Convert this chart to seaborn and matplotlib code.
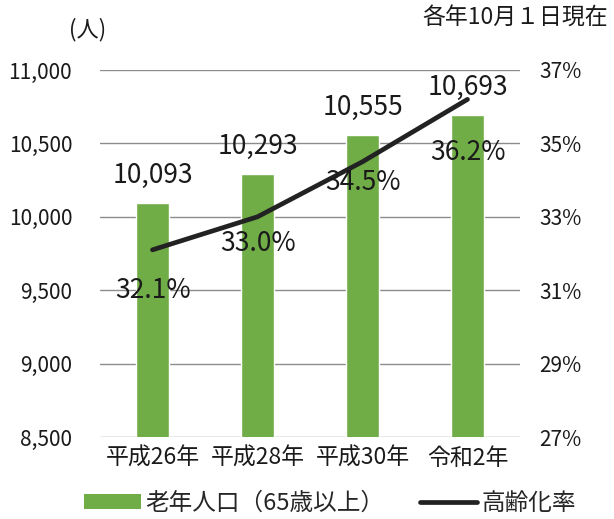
import matplotlib
matplotlib.use("Agg")
import matplotlib.pyplot as plt
import seaborn as sns
import numpy as np
from matplotlib.patches import Patch
from matplotlib.lines import Line2D

categories = ["平成26年", "平成28年", "平成30年", "令和2年"]
population = [10093, 10293, 10555, 10693]
aging_rate = [32.1, 33.0, 34.5, 36.2]
left_ticks = [8500, 9000, 9500, 10000, 10500, 11000]
right_ticks = [27, 29, 31, 33, 35, 37]

sns.set_theme(style="white")
plt.rcParams['font.family'] = ['Noto Sans CJK JP', 'DejaVu Sans']

bar_color = "#70AD47"
line_color = "#222222"
text_color = "#1a1a1a"

fig = plt.figure(figsize=(6.14, 5.19), dpi=100)
ax = fig.add_axes([100/614, 1-437/519, 420/614, (437-70)/519])

sns.barplot(x=categories, y=population, color=bar_color, width=0.31,
            saturation=1, ax=ax, zorder=3)
ax.set_ylim(8500, 11000)
ax.set_xlim(-0.5, 3.5)
ax.set_yticks(left_ticks)
ax.set_yticklabels([f"{v:,}" for v in left_ticks])
ax.yaxis.grid(True, color="#8c8c8c", linewidth=1.0, zorder=0)
ax.set_axisbelow(True)
for s in ax.spines.values():
    s.set_visible(False)
ax.tick_params(axis='y', length=0, pad=20, labelsize=15, labelcolor=text_color)
ax.tick_params(axis='x', length=0, pad=7, labelsize=16.5, labelcolor=text_color)
ax.set_xlabel("")
ax.set_ylabel("")

ax2 = ax.twinx()
x_pos = np.arange(len(categories))
sns.lineplot(x=x_pos, y=aging_rate, ax=ax2, color=line_color, linewidth=3.4,
             zorder=5)
ax2.set_ylim(27, 37)
ax2.set_yticks(right_ticks)
ax2.set_yticklabels([f"{v}%" for v in right_ticks])
ax2.tick_params(axis='y', length=0, pad=14, labelsize=15, labelcolor=text_color)
ax2.grid(False)
for s in ax2.spines.values():
    s.set_visible(False)
ax2.set_ylabel("")

# bar value labels
for i, v in enumerate(population):
    ax.annotate(f"{v:,}", (i, v), xytext=(0, 20), textcoords="offset points",
                ha="center", va="center", fontsize=19, color=text_color, zorder=6)

# rate labels
rate_offsets = [-29, -19, -15, -38]
for i, r in enumerate(aging_rate):
    ax2.annotate(f"{r}%", (i, r), xytext=(0, rate_offsets[i]), textcoords="offset points",
                 ha="center", va="center", fontsize=19, color=text_color, zorder=6)

fig.text(88/614, 1-30/519, "(人)", ha="center", va="center", fontsize=16, color=text_color)
fig.text(608/614, 1-18/519, "各年10月１日現在", ha="right", va="center", fontsize=16.5, color=text_color)

handles = [Patch(facecolor=bar_color, edgecolor="none"),
           Line2D([0], [0], color=line_color, linewidth=3.4)]
labels = ["老年人口（65歳以上）", "高齢化率"]
fig.legend(handles, labels, loc="center", bbox_to_anchor=(330/614, 1-503/519),
           ncol=2, frameon=False, fontsize=17, handlelength=2.4, handleheight=0.6,
           columnspacing=1.5, handletextpad=0.2)

fig.savefig("out.png", dpi=100, facecolor="white")
